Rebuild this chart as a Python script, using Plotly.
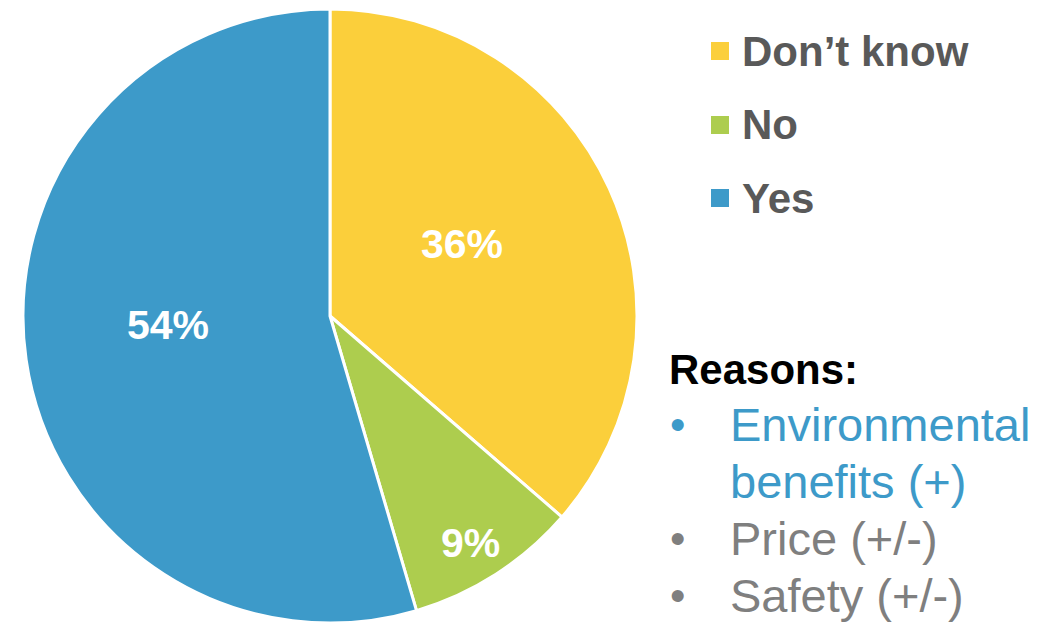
import math
import plotly.graph_objects as go

# Survey answers and their shares (%)
answers = ["Don’t know", "No", "Yes"]
shares = [36, 9, 54]
colors = ["#FBCF3B", "#ADCD4E", "#3D9AC9"]

# Reasons listed beside the chart
reasons_title = "Reasons:"
reason_lines = [["Environmental", "benefits (+)"], ["Price (+/-)"], ["Safety (+/-)"]]
reason_colors = ["#3D9AC9", "#7F7F7F", "#7F7F7F"]

W, H = 1060, 624
FONT = "Liberation Sans, Arial, sans-serif"

# pie geometry in pixels
CX, CY, R = 330, 316, 307
# radial placement of each percentage label, as a fraction of the radius
label_radius = [0.49, 0.87, 0.53]
label_shift_deg = [-4, 1, 5]


def px(x):
    return x / W


def py(y):
    return 1 - y / H


fig = go.Figure(
    go.Pie(
        labels=answers,
        values=shares,
        sort=False,
        direction="clockwise",
        rotation=0,
        marker=dict(colors=colors, line=dict(color="white", width=3)),
        textinfo="none",
        hoverinfo="label+value",
        domain=dict(x=[px(CX - R), px(CX + R)], y=[py(CY + R), py(CY - R)]),
        showlegend=False,
    )
)

shapes = []
annotations = []

# Percentage labels at each slice's mid angle (clockwise from 12 o'clock)
total = sum(shares)
start = 0.0
for val, rf, sh in zip(shares, label_radius, label_shift_deg):
    sweep = 360.0 * val / total
    mid = math.radians(start + sweep / 2 + sh)
    lx = CX + rf * R * math.sin(mid)
    ly = CY - rf * R * math.cos(mid)
    annotations.append(dict(text=f"{val}%", xref="paper", yref="paper",
                            x=px(lx), y=py(ly), xanchor="center", yanchor="middle",
                            showarrow=False,
                            font=dict(family=FONT, size=41, color="white", weight="bold")))
    start += sweep

# Legend: coloured squares with bold labels
legend_rows = [51, 125, 198]
for name, col, yc in zip(answers, colors, legend_rows):
    shapes.append(dict(type="rect", xref="paper", yref="paper",
                       x0=px(711), x1=px(729), y0=py(yc + 9), y1=py(yc - 9),
                       fillcolor=col, line=dict(width=0)))
    annotations.append(dict(text=name, xref="paper", yref="paper",
                            x=px(740), y=py(yc), xanchor="left", yanchor="middle",
                            showarrow=False,
                            font=dict(family=FONT, size=42, color="#595959", weight="bold")))

# Reasons block
annotations.append(dict(text=reasons_title, xref="paper", yref="paper",
                        x=px(667), y=py(369), xanchor="left", yanchor="middle",
                        showarrow=False,
                        font=dict(family=FONT, size=42, color="black", weight="bold")))

line_y = 424
step = 57
for lines, col in zip(reason_lines, reason_colors):
    annotations.append(dict(text="•", xref="paper", yref="paper",
                            x=px(668), y=py(line_y), xanchor="left", yanchor="middle",
                            showarrow=False,
                            font=dict(family=FONT, size=44, color=col)))
    for ln in lines:
        annotations.append(dict(text=ln, xref="paper", yref="paper",
                                x=px(728), y=py(line_y), xanchor="left", yanchor="middle",
                                showarrow=False,
                                font=dict(family=FONT, size=47, color=col)))
        line_y += step

fig.update_layout(
    width=W, height=H,
    margin=dict(l=0, r=0, t=0, b=0),
    paper_bgcolor="white",
    plot_bgcolor="white",
    shapes=shapes,
    annotations=annotations,
)

fig.write_html("out.html")
